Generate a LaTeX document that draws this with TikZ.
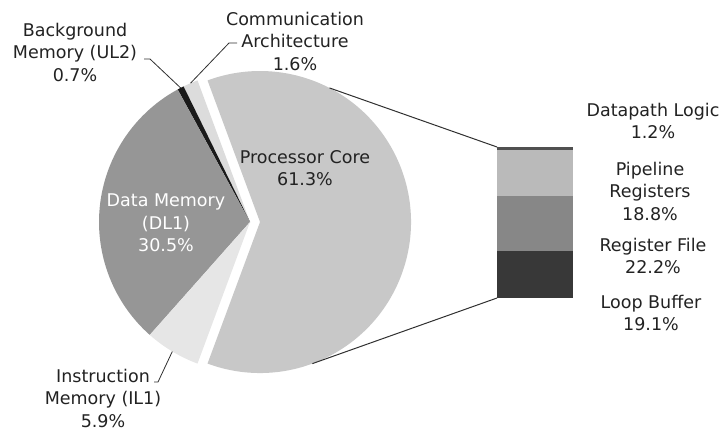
\documentclass[tikz,border=0pt]{standalone}
\usepackage{fontspec}
\setmainfont{DejaVu Sans}
\usetikzlibrary{calc}
\definecolor{procc}{HTML}{C8C8C8}
\definecolor{datac}{HTML}{969696}
\definecolor{instrc}{HTML}{E6E6E6}
\definecolor{commc}{HTML}{DCDCDC}
\definecolor{bgc}{HTML}{1A1A1A}
\definecolor{dpc}{HTML}{505050}
\definecolor{pipc}{HTML}{BABABA}
\definecolor{rfc}{HTML}{878787}
\definecolor{lbc}{HTML}{383838}
\definecolor{txt}{HTML}{222222}
\definecolor{ln}{HTML}{303030}
\begin{document}
\begin{tikzpicture}[x=1bp,y=1bp,
  lbl/.style={font=\fontsize{17.5bp}{22.5bp}\selectfont, text=txt, align=center, inner sep=0pt},
  lead/.style={draw=ln, line width=0.8bp},
  conn/.style={draw=ln, line width=1bp}]
\useasboundingbox (0,0) rectangle (719,427);
% pie centres
\coordinate (c0) at (250,205);
\coordinate (c1) at (260,205);
% slices
\fill[procc] (c1) -- ++(-110.34:151) arc[start angle=-110.34, end angle=110.34, radius=151] -- cycle;
\fill[commc] (c0) -- ++(110.34:151) arc[start angle=110.34, end angle=116.10, radius=151] -- cycle;
\fill[bgc] (c0) -- ++(116.10:151) arc[start angle=116.10, end angle=118.62, radius=151] -- cycle;
\fill[datac] (c0) -- ++(118.62:151) arc[start angle=118.62, end angle=228.42, radius=151] -- cycle;
\fill[instrc] (c0) -- ++(228.42:151) arc[start angle=228.42, end angle=249.66, radius=151] -- cycle;
% bar
\fill[lbc] (497,129) rectangle (573,176);
\fill[rfc] (497,176) rectangle (573,231);
\fill[pipc] (497,231) rectangle (573,277);
\fill[dpc] (497,277) rectangle (573,280);
\coordinate (bartop) at (497,280);
\coordinate (barbot) at (497,129);
% connectors to bar
\coordinate (ptop) at ($(c1)+(62.6:151)$);
\coordinate (pbot) at ($(c1)+(-69.7:151)$);
\draw[conn] (ptop) -- (bartop);
\draw[conn] (pbot) -- (barbot);
% slice points for leaders
\coordinate (bgpt) at ($(c0)+(117.36:151)$);
\coordinate (commpt) at ($(c0)+(113.2:151)$);
\coordinate (instrpt) at ($(c0)+(239.04:151)$);
% labels
\node[lbl] (bg) at (75,375) {Background\\Memory (UL2)\\0.7\%};
\node[lbl] (comm) at (295,386) {Communication\\Architecture\\1.6\%};
\node[lbl] (instr) at (103,29) {Instruction\\Memory (IL1)\\5.9\%};
\node[lbl] (proc) at (305,259) {Processor Core\\61.3\%};
\node[lbl, text=white] (data) at (166,204) {Data Memory\\(DL1)\\30.5\%};
\node[lbl] (dp) at (653,306) {Datapath Logic\\1.2\%};
\node[lbl] (pip) at (650,236) {Pipeline\\Registers\\18.8\%};
\node[lbl] (rf) at (653,171) {Register File\\22.2\%};
\node[lbl] (lb) at (651,114) {Loop Buffer\\19.1\%};
% leaders
\coordinate (bgl) at (144,368);
\coordinate (comml) at (237,384);
\coordinate (instrl) at (154,45);
\draw[lead] (bgl) -- ++(6,0) -- (bgpt);
\draw[lead] (comml) -- ++(-8,0) -- (commpt);
\draw[lead] (instrl) -- ++(4,0) -- (instrpt);
\end{tikzpicture}
\end{document}
